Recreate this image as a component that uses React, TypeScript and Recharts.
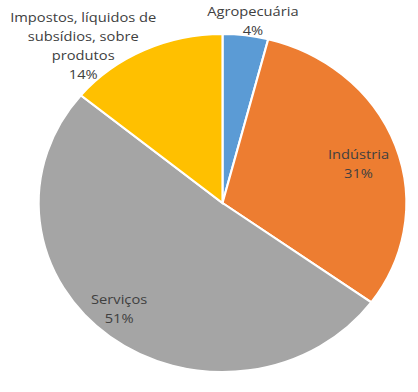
import { PieChart, Pie, Cell } from "recharts";

// sector shares of GDP, clockwise from 12 o'clock
const sectors = ["Agropecuária", "Indústria", "Serviços", "Impostos, líquidos de subsídios, sobre produtos"];
const shares = [4, 31, 51, 14];
const labelLines = [["Agropecuária"], ["Indústria"], ["Serviços"], ["Impostos, líquidos de", "subsídios, sobre", "produtos"]];
const colors = ["#5B9BD5", "#ED7D31", "#A5A5A5", "#FFC000"];

// where each percent line sits, relative to the pie centre (unscaled px)
const labelOffsets = [
  [28, -172],
  [125, -29],
  [-95, 116],
  [-128, -128],
];

const SX = 1.088; // source image is stretched horizontally
const W = 384;
const H = 392;
const LINE = 19;

const data = sectors.map((name, i) => ({ name, value: shares[i] }));

function renderLabel(props: any) {
  const { cx, cy, index, value } = props;
  const [dx, dy] = labelOffsets[index];
  const lines = [...labelLines[index], `${value}%`];
  const x = cx + dx;
  const top = cy + dy - (lines.length - 1) * LINE;
  return (
    <text
      x={x}
      y={top}
      textAnchor="middle"
      fill="#404040"
      fontSize={13.5}
      fontFamily="'Open Sans', sans-serif"
    >
      {lines.map((l, i) => (
        <tspan key={i} x={x} y={top + i * LINE} dominantBaseline="middle">
          {l}
        </tspan>
      ))}
    </text>
  );
}

export default function App() {
  return (
    <div
      style={{
        position: "absolute",
        left: 0,
        top: 0,
        width: W,
        height: H,
        background: "#fff",
        transform: `scaleX(${SX})`,
        transformOrigin: "0 0",
      }}
    >
      <PieChart width={W} height={H}>
        <Pie
          data={data}
          dataKey="value"
          nameKey="name"
          cx={199.5}
          cy={198}
          outerRadius={169}
          startAngle={90}
          endAngle={-270}
          stroke="#fff"
          strokeWidth={2}
          label={renderLabel}
          labelLine={false}
          isAnimationActive={false}
        >
          {data.map((d, i) => (
            <Cell key={d.name} fill={colors[i]} />
          ))}
        </Pie>
      </PieChart>
    </div>
  );
}
